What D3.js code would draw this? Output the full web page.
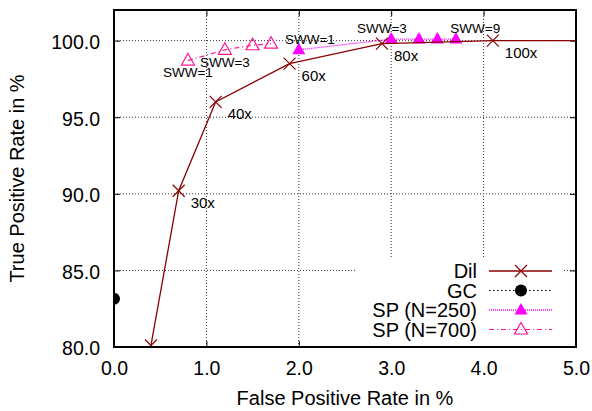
<!DOCTYPE html>
<html lang="en">
<head>
<meta charset="UTF-8">
<title>ROC: Dil vs GC vs SP</title>
<script src="https://d3js.org/d3.v7.min.js"></script>
<style>
    body { margin: 0; background: #fff; font-family: 'Liberation Sans', Arial, sans-serif; }
    svg text { fill: #000; }
</style>
</head>
<body>
<div id="chart"></div>
<script>
// ---- data (FPR %, TPR %) ----
const dilFpr = [0.4, 0.7, 1.1, 1.9, 2.9, 4.1, 6.0];
const dilTpr = [80.1, 90.2, 96.0, 98.5, 99.8, 100.0, 100.0];
const dilLabels = ["", "30x", "40x", "60x", "80x", "100x", ""];

const gcFpr = [0.0];
const gcTpr = [83.15];

const sp250Fpr = [2.0, 3.0, 3.3, 3.5, 3.7];
const sp250Tpr = [99.4, 100.1, 100.1, 100.1, 100.1];

const sp700Fpr = [0.8, 1.2, 1.5, 1.7];
const sp700Tpr = [98.7, 99.4, 99.7, 99.8];

// free-standing labels (like gnuplot "set label ... at x,y")
const swwText = ["SWW=1", "SWW=3", "SWW=9", "SWW=1", "SWW=3"];
const swwX    = [1.85, 2.63, 3.64, 0.53, 0.93];
const swwY    = [99.78, 100.48, 100.48, 97.61, 98.31];

const xTicks = [0, 1, 2, 3, 4, 5];
const yTicks = [80, 85, 90, 95, 100];

const series = [
    { name: "Dil", x: dilFpr, y: dilTpr, color: "#8b0000", dash: null, width: 1.3, mark: "cross" },
    { name: "GC", x: gcFpr, y: gcTpr, color: "#000000", dash: "1.5,2.5", width: 1.2, mark: "circle" },
    { name: "SP (N=250)", x: sp250Fpr, y: sp250Tpr, color: "#ff00ff", dash: "1,1", width: 1.3, mark: "tri" },
    { name: "SP (N=700)", x: sp700Fpr, y: sp700Tpr, color: "#ff1493", dash: "5,3,1,3", width: 1.2, mark: "otri" }
];

const W = 592, H = 411;
const margin = { top: 10, right: 16, bottom: 64, left: 114 };
const width = W - margin.left - margin.right;
const height = H - margin.top - margin.bottom;

const svg = d3.select("#chart").append("svg")
    .attr("width", W).attr("height", H)
    .style("font-family", "'Liberation Sans', Arial, sans-serif");

const g = svg.append("g").attr("transform", `translate(${margin.left},${margin.top})`);

const x = d3.scaleLinear().domain([0, 5]).range([0, width]);
const y = d3.scaleLinear().domain([80, 102]).range([height, 0]);

// grid
g.append("g").selectAll("line").data(xTicks.slice(1, -1)).join("line")
    .attr("x1", d => x(d)).attr("x2", d => x(d)).attr("y1", 0).attr("y2", height)
    .attr("stroke", "#333").attr("stroke-width", 1).attr("stroke-dasharray", "1,2");
g.append("g").selectAll("line").data(yTicks.slice(1)).join("line")
    .attr("x1", 0).attr("x2", width).attr("y1", d => y(d)).attr("y2", d => y(d))
    .attr("stroke", "#333").attr("stroke-width", 1).attr("stroke-dasharray", "1,2");

// axes: ticks point inward, mirrored on top/right
const fmt = d3.format(".1f");
const xAxis = g.append("g").attr("transform", `translate(0,${height})`)
    .call(d3.axisBottom(x).tickValues(xTicks).tickSize(-6).tickPadding(14).tickFormat(fmt));
const yAxis = g.append("g")
    .call(d3.axisLeft(y).tickValues(yTicks).tickSize(-6).tickPadding(14).tickFormat(fmt));
g.append("g").call(d3.axisTop(x).tickValues(xTicks).tickSize(-6).tickFormat(""));
g.append("g").attr("transform", `translate(${width},0)`)
    .call(d3.axisRight(y).tickValues(yTicks).tickSize(-6).tickFormat(""));

g.selectAll(".domain").remove();
g.selectAll(".tick line").attr("stroke", "#000").attr("stroke-width", 1);
xAxis.selectAll("text").style("font-size", "19.5px").attr("dy", "0.71em");
yAxis.selectAll("text").style("font-size", "19.5px").attr("dy", "0.40em");

// axis titles
svg.append("text")
    .attr("x", margin.left + width / 2).attr("y", 405)
    .attr("text-anchor", "middle").style("font-size", "20px")
    .text("False Positive Rate in %");
svg.append("text")
    .attr("transform", `translate(24,${margin.top + height / 2}) rotate(-90)`)
    .attr("text-anchor", "middle").style("font-size", "20px")
    .text("True Positive Rate in %");

// clip for curves
svg.append("clipPath").attr("id", "clip")
    .append("rect").attr("width", width).attr("height", height);
const plot = g.append("g").attr("clip-path", "url(#clip)");

function drawMark(sel, kind, color) {
    if (kind === "cross") {
        sel.append("path").attr("d", "M-6,-6L6,6M-6,6L6,-6")
            .attr("stroke", color).attr("stroke-width", 1.2).attr("fill", "none");
    } else if (kind === "circle") {
        sel.append("circle").attr("r", 6).attr("fill", color);
    } else if (kind === "tri") {
        sel.append("path").attr("d", "M0,-7L6.5,4.5L-6.5,4.5Z").attr("fill", color);
    } else if (kind === "otri") {
        sel.append("path").attr("d", "M0,-7L6.5,4.5L-6.5,4.5Z")
            .attr("fill", "none").attr("stroke", color).attr("stroke-width", 1.2);
    }
}

const line = d3.line().x(d => x(d[0])).y(d => y(d[1]));

// draw in reverse so Dil is on top
series.slice().reverse().forEach(s => {
    const pts = s.x.map((v, i) => [v, s.y[i]]);
    if (pts.length > 1) {
        plot.append("path").datum(pts)
            .attr("d", line).attr("fill", "none")
            .attr("stroke", s.color).attr("stroke-width", s.width)
            .attr("stroke-dasharray", s.dash);
    }
    pts.forEach(p => {
        const m = plot.append("g").attr("transform", `translate(${x(p[0])},${y(p[1])})`);
        drawMark(m, s.mark, s.color);
    });
});

// point labels for Dil
dilFpr.forEach((v, i) => {
    if (!dilLabels[i]) return;
    g.append("text")
        .attr("x", x(v) + 12).attr("y", y(dilTpr[i]) + 17)
        .style("font-size", "15px")
        .text(dilLabels[i]);
});

// SWW labels
swwText.forEach((t, i) => {
    g.append("text")
        .attr("x", x(swwX[i])).attr("y", y(swwY[i]))
        .style("font-size", "13.5px")
        .text(t);
});

// legend
const lg = svg.append("g");
lg.append("rect").attr("x", 355).attr("y", 258).attr("width", 208).attr("height", 88).attr("fill", "#fff");
series.forEach((s, i) => {
    const ry = 271 + i * 19.5;
    lg.append("text").attr("x", 477).attr("y", ry).attr("dy", "0.36em")
        .attr("text-anchor", "end").style("font-size", "20px").text(s.name);
    lg.append("line").attr("x1", 489).attr("x2", 552).attr("y1", ry).attr("y2", ry)
        .attr("stroke", s.color).attr("stroke-width", s.width).attr("stroke-dasharray", s.dash);
    drawMark(lg.append("g").attr("transform", `translate(521,${ry})`), s.mark, s.color);
});

// border
g.append("rect").attr("width", width).attr("height", height)
    .attr("fill", "none").attr("stroke", "#000").attr("stroke-width", 2);
</script>
</body>
</html>
